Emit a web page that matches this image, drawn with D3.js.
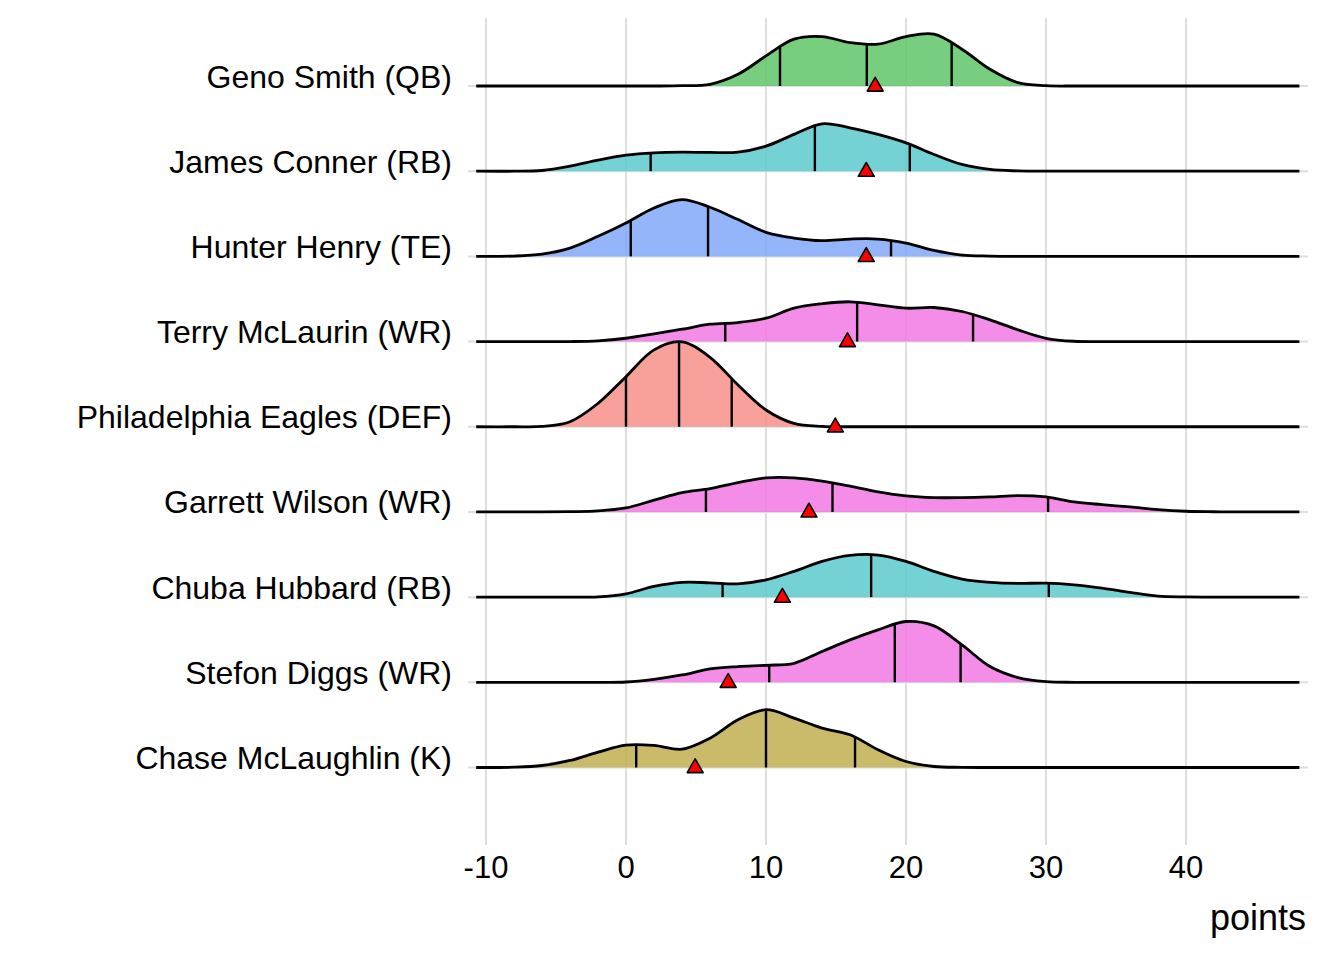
<!DOCTYPE html>
<html>
<head>
<meta charset="utf-8">
<script src="https://cdn.jsdelivr.net/npm/d3@7"></script>
<style>
  html, body { margin: 0; padding: 0; background: #fff; }
  svg text { font-family: "Liberation Sans", Arial, Helvetica, sans-serif; fill: #000; }
</style>
</head>
<body>
<svg class="js-ridges"></svg>
<script>
/* <DATA> */
var players = [
  'Geno Smith (QB)', 'James Conner (RB)', 'Hunter Henry (TE)', 'Terry McLaurin (WR)',
  'Philadelphia Eagles (DEF)', 'Garrett Wilson (WR)', 'Chuba Hubbard (RB)',
  'Stefon Diggs (WR)', 'Chase McLaughlin (K)'
];
var positions = ['QB', 'RB', 'TE', 'WR', 'DEF', 'WR', 'RB', 'WR', 'K'];

// x grid the ridge heights were read at
var gridPoints = [-10.7, -8, -6, -4, -2, 0, 2, 4, 6, 8, 10, 12, 14, 16, 18, 20,
  22, 24, 26, 28, 30, 32, 34, 36, 38, 40, 42, 44, 46, 48.1];

// ridge heights (85 = one row)
var genoSmith =     [0, 0, 0, 0, 0, 0, 0, 0.3, 1.7, 11.7, 30, 46.7, 49.3, 43.3, 41.7, 49.3, 51.7, 36.7, 16.7, 3.3, 0.3, 0, 0, 0, 0, 0, 0, 0, 0, 0];
var jamesConner =   [0, 0, 0.7, 5, 11, 16, 18.3, 19, 18.7, 19, 25, 36.7, 47.3, 43.3, 36.7, 28.3, 16.7, 6.7, 1.7, 0.3, 0, 0, 0, 0, 0, 0, 0, 0, 0, 0];
var hunterHenry =   [0, 0.3, 2.3, 8.3, 20, 33.3, 48.3, 56.7, 49, 36.7, 24, 18.3, 15.7, 17.3, 17.3, 13.3, 6, 1.3, 0.3, 0, 0, 0, 0, 0, 0, 0, 0, 0, 0, 0];
var terryMcLaurin = [0, 0, 0, 0, 0.7, 3.3, 7.7, 12.3, 17.3, 19, 23.3, 33.3, 37.7, 39.7, 36.7, 33.3, 34, 30, 21.7, 11.7, 3.3, 0.3, 0, 0, 0, 0, 0, 0, 0, 0];
var eagles =        [0, 0, 0.3, 5, 23.3, 50, 76.7, 84.7, 69.3, 41.7, 16.7, 3.3, 0.3, 0, 0, 0, 0, 0, 0, 0, 0, 0, 0, 0, 0, 0, 0, 0, 0, 0];
var garrettWilson = [0, 0, 0, 0.3, 1, 4, 11.7, 19.3, 23.3, 29.3, 34, 34, 30.7, 25.7, 20, 16, 14.3, 14.3, 15, 16.3, 15, 10, 7.3, 5, 2.3, 0.7, 0.2, 0, 0, 0];
var chubaHubbard =  [0, 0, 0, 0, 0.3, 3.3, 10.7, 14.7, 14.3, 13.3, 17.3, 25.7, 35.7, 41.7, 42, 35.7, 25.7, 18, 14.7, 13.7, 14, 12.3, 9, 4.7, 1, 0.2, 0, 0, 0, 0];
var stefonDiggs =   [0, 0, 0, 0, 0, 0.3, 3, 7.3, 13.3, 15.7, 17, 19, 30.7, 42.3, 52.3, 60.7, 56.3, 37.3, 15.7, 4.7, 0.7, 0, 0, 0, 0, 0, 0, 0, 0, 0];
var chaseMcLaughlin = [0, 0.3, 2, 7, 15.3, 22.3, 22, 18.3, 29.3, 47.7, 57.7, 49.3, 39.3, 32.7, 17.7, 6, 1, 0.2, 0, 0, 0, 0, 0, 0, 0, 0, 0, 0, 0, 0];

var quantiles = [
  [11.0, 17.2, 23.26], [1.76, 13.49, 20.27], [0.34, 5.86, 18.93],
  [7.09, 16.51, 24.79], [0.0, 3.79, 7.55], [5.71, 14.75, 30.15],
  [6.9, 17.51, 30.2], [10.23, 19.2, 23.9], [0.73, 10.0, 16.36]
];
var projected = [17.8, 17.16, 17.16, 15.82, 14.95, 13.07, 11.17, 7.3, 4.94];

var xTicks = [-10, 0, 10, 20, 30, 40];
var positionColors = {
  DEF: '#F79088', K: '#BFAF50', QB: '#5FC567', RB: '#5DCACC', TE: '#83A8FA', WR: '#F179E4'
};
/* </DATA> */

(function drawRidges(d3) {
  var ridgeHeights = [genoSmith, jamesConner, hunterHenry, terryMcLaurin, eagles,
    garrettWilson, chubaHubbard, stefonDiggs, chaseMcLaughlin];

  var width = 1344;
  var height = 960;
  var panel = { left: 468, right: 1308, top: 18, bottom: 845 };

  var svg = d3.select('.js-ridges')
    .attr('width', width)
    .attr('height', height);

  var x = d3.scaleLinear().domain([-10, 40]).range([486, 1186]);
  var y = d3.scalePoint().domain(players).range([86, 767.5]);
  var rowStep = y.step();
  var h = d3.scaleLinear().domain([0, 85]).range([0, rowStep]);

  // grid
  var grid = svg.append('g').attr('class', 'grid');
  grid.selectAll('line.v')
    .data(xTicks)
    .enter().append('line')
    .attr('class', 'v')
    .attr('x1', function (d) { return x(d); })
    .attr('x2', function (d) { return x(d); })
    .attr('y1', panel.top)
    .attr('y2', panel.bottom)
    .attr('stroke', '#dedede')
    .attr('stroke-width', 2);
  grid.selectAll('line.h')
    .data(players)
    .enter().append('line')
    .attr('class', 'h')
    .attr('x1', panel.left)
    .attr('x2', panel.right)
    .attr('y1', function (d) { return y(d); })
    .attr('y2', function (d) { return y(d); })
    .attr('stroke', '#dedede')
    .attr('stroke-width', 2);

  // ridges
  var ridges = svg.append('g').attr('class', 'ridges');
  players.forEach(function drawOne(name, i) {
    var base = y(name);
    var pts = gridPoints.map(function (gx, j) { return [gx, ridgeHeights[i][j]]; });
    var area = d3.area()
      .x(function (d) { return x(d[0]); })
      .y0(base)
      .y1(function (d) { return base - h(d[1]); })
      .curve(d3.curveCatmullRom.alpha(0.5));
    var line = d3.line()
      .x(function (d) { return x(d[0]); })
      .y(function (d) { return base - h(d[1]); })
      .curve(d3.curveCatmullRom.alpha(0.5));

    var g = ridges.append('g');
    g.append('path')
      .attr('d', area(pts))
      .attr('fill', positionColors[positions[i]])
      .attr('fill-opacity', 0.85)
      .attr('stroke', 'none');
    var outline = g.append('path')
      .attr('d', line(pts))
      .attr('fill', 'none')
      .attr('stroke', '#000')
      .attr('stroke-width', 2.8)
      .attr('stroke-linejoin', 'round');

    // quantile lines: find the outline's y at each quantile
    var node = outline.node();
    var total = node.getTotalLength();
    function yAt(px) {
      var lo = 0, hi = total;
      for (var k = 0; k < 40; k++) {
        var mid = (lo + hi) / 2;
        if (node.getPointAtLength(mid).x < px) lo = mid; else hi = mid;
      }
      return node.getPointAtLength((lo + hi) / 2).y;
    }
    g.selectAll('line.q')
      .data(quantiles[i])
      .enter().append('line')
      .attr('class', 'q')
      .attr('x1', function (d) { return x(d); })
      .attr('x2', function (d) { return x(d); })
      .attr('y1', base)
      .attr('y2', function (d) { return yAt(x(d)); })
      .attr('stroke', '#000')
      .attr('stroke-width', 2.4);
  });

  // projection markers
  svg.append('g').selectAll('path')
    .data(players)
    .enter().append('path')
    .attr('d', d3.symbol().type(d3.symbolTriangle).size(110))
    .attr('transform', function (d, i) {
      return 'translate(' + x(projected[i]) + ',' + (y(d) + 0.5) + ')';
    })
    .attr('fill', '#ff0000')
    .attr('stroke', '#000')
    .attr('stroke-width', 1.6)
    .attr('stroke-linejoin', 'round');

  // y labels
  svg.append('g').selectAll('text')
    .data(players)
    .enter().append('text')
    .attr('x', 452)
    .attr('y', function (d) { return y(d) + 1.5; })
    .attr('text-anchor', 'end')
    .style('font-size', '32px')
    .text(function (d) { return d; });

  // x axis labels
  svg.append('g').selectAll('text')
    .data(xTicks)
    .enter().append('text')
    .attr('x', function (d) { return x(d); })
    .attr('y', 878)
    .attr('text-anchor', 'middle')
    .style('font-size', '31px')
    .text(function (d) { return d; });

  svg.append('text')
    .attr('x', 1306)
    .attr('y', 930)
    .attr('text-anchor', 'end')
    .style('font-size', '36px')
    .text('points');
}(d3));
</script>
</body>
</html>
